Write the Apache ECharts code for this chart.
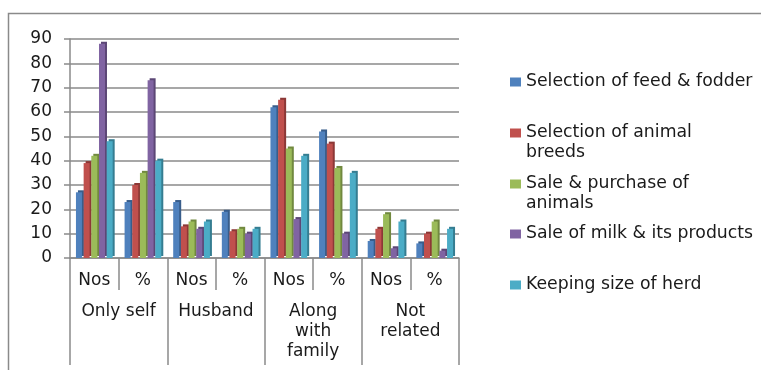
<!DOCTYPE html>
<html><head><meta charset="utf-8">
<script src="https://cdn.jsdelivr.net/npm/echarts@6/dist/echarts.min.js"></script>
<style>html,body{margin:0;padding:0;background:#fff}#c{width:761px;height:370px}</style>
</head><body><div id="c"></div>
<script>
const subCategories = ['Nos','%','Nos','%','Nos','%','Nos','%'];
const groups = ['Only self','Husband','Along\nwith\nfamily','Not\nrelated'];
const yTicks = {min:0, max:90, interval:10};
const seriesNames = ['Selection of feed & fodder','Selection of animal breeds','Sale & purchase of animals','Sale of milk & its products','Keeping size of herd'];
const legendLabels = ['Selection of feed & fodder','\nSelection of animal\nbreeds','\nSale & purchase of\nanimals','Sale of milk & its products','Keeping size of herd'];
const feedFodder   = [27,23,23,19,62,52,7,6];
const animalBreeds = [39,30,13,11,65,47,12,10];
const salePurchase = [42,35,15,12,45,37,18,15];
const saleMilk     = [88,73,12,10,16,10,4,3];
const herdSize     = [48,40,15,12,42,35,15,12];
const values = [feedFodder, animalBreeds, salePurchase, saleMilk, herdSize];

const colors = ['#4F81BD','#C0504D','#9BBB59','#8064A2','#4BACC6'];
const dark = ['#385D8A','#8C3836','#71893F','#5C4776','#357D91'];
const FONT = 'DejaVu Sans';
const gray = '#8a8a8a';
const iconCenters = [82,133,184,234,285];

const chart = echarts.init(document.getElementById('c'));
chart.setOption({
  animation:false,
  textStyle:{fontFamily:FONT},
  grid:{left:70, right:302, top:39, height:219, containLabel:false},
  graphic:[{type:'polyline', shape:{points:[[8.5,370],[8.5,13.5],[761,13.5]]}, style:{stroke:gray, lineWidth:1.5, fill:null}}],
  legend: seriesNames.map((n,i)=>({
    data:[n],
    orient:'vertical', left:510, padding:0,
    top: iconCenters[i] - (legendLabels[i].includes('\n') ? 30 : 10),
    itemWidth:11, itemHeight:9,
    icon:'rect', selectedMode:false,
    formatter:()=>legendLabels[i],
    textStyle:{fontFamily:FONT, fontSize:17.3, color:'#1a1a1a', lineHeight:20}
  })),
  xAxis:[
    {type:'category', data:subCategories, position:'bottom',
     axisLine:{lineStyle:{color:gray, width:1.5}},
     axisTick:{show:true, length:32, lineStyle:{color:gray, width:1.5}},
     axisLabel:{interval:0, margin:13, fontSize:17, color:'#1a1a1a', fontFamily:FONT, lineHeight:20},
     splitLine:{show:false}},
    {type:'category', data:groups, position:'bottom',
     axisLine:{show:false},
     axisTick:{show:true, length:107, lineStyle:{color:gray, width:1.5}},
     axisLabel:{interval:0, margin:44, fontSize:17, color:'#1a1a1a', fontFamily:FONT, lineHeight:20},
     splitLine:{show:false}}
  ],
  yAxis:{type:'value', min:yTicks.min, max:yTicks.max, interval:yTicks.interval,
    axisLine:{show:true, lineStyle:{color:gray, width:1.5}},
    axisTick:{show:true, length:6, lineStyle:{color:gray, width:1.5}},
    axisLabel:{margin:18, fontSize:17, color:'#1a1a1a', fontFamily:FONT},
    splitLine:{lineStyle:{color:gray, width:1.5}}},
  series: seriesNames.map((n,i)=>({
    name:n, type:'bar', xAxisIndex:0, data:values[i],
    barWidth:6, barGap:'28%',
    itemStyle:{color:colors[i], shadowColor:dark[i], shadowOffsetX:2, shadowOffsetY:-2, shadowBlur:0}
  }))
});
</script></body></html>
